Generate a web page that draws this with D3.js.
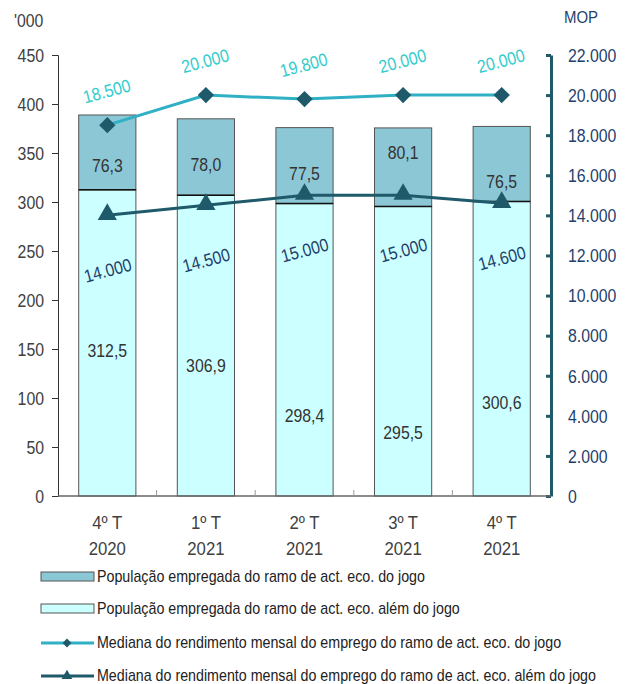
<!DOCTYPE html>
<html>
<head>
<meta charset="utf-8">
<script src="https://cdn.jsdelivr.net/npm/d3@7"></script>
<style>
  body { margin: 0; background: #fff; }
  text { font-family: "Liberation Sans Narrow", "Liberation Sans", Arial, sans-serif; }
</style>
</head>
<body>
<script>
// data
var categories = ["4º T|2020", "1º T|2021", "2º T|2021", "3º T|2021", "4º T|2021"];
var alemJogo = [312.5, 306.9, 298.4, 295.5, 300.6];
var doJogo = [76.3, 78.0, 77.5, 80.1, 76.5];
var medianaJogo = [18500, 20000, 19800, 20000, 20000];
var medianaAlem = [14000, 14500, 15000, 15000, 14600];
var leftTicks = [0, 50, 100, 150, 200, 250, 300, 350, 400, 450];
var rightTicks = [0, 2000, 4000, 6000, 8000, 10000, 12000, 14000, 16000, 18000, 20000, 22000];
var legendLabels = [
  "População empregada do ramo de act. eco. do jogo",
  "População empregada do ramo de act. eco. além do jogo",
  "Mediana do rendimento mensal do emprego do ramo de act. eco. do jogo",
  "Mediana do rendimento mensal do emprego do ramo de act. eco. além do jogo"
];

// manual label nudges (like the original chart)
var topLabelDy = [14, 8, 8, -14, 18];
var botLabelDy = [8, 20, 66, 82, 54];

var W = 629, H = 684;
var mLeft = 58, mRight = 551, mTop = 55, mBottom = 496;
var SX = 0.88; // narrow text look

var cTopFill = "#8cc7d6", cBotFill = "#ccffff";
var cLine1 = "#2fb0c4", cMark = "#1f5a6a", cLine2 = "#1f5a6a";
var cLab1 = "#33cccc", cLab2 = "#1f3f6b", cAxisR = "#1f5a6a", cTxt = "#404040";

var svg = d3.select("body").append("svg")
  .attr("width", W).attr("height", H);

var x = d3.scaleBand().domain(d3.range(categories.length))
  .range([mLeft, mRight]).paddingInner(0.42).paddingOuter(0.21);
var xc = function (i) { return x(i) + x.bandwidth() / 2; };
var y = d3.scaleLinear().domain([0, 450]).range([mBottom, mTop]);
var y2 = d3.scaleLinear().domain([0, 22000]).range([mBottom, mTop]);

function narrow(sel) {
  // squeeze text horizontally around its anchor point
  sel.each(function () {
    var t = d3.select(this);
    var tx = +t.attr("x") || 0, ty = +t.attr("y") || 0;
    t.attr("transform", "translate(" + tx + "," + ty + ") scale(" + SX + ",1)")
      .attr("x", 0).attr("y", 0);
  });
}

// left axis
var gl = svg.append("g").attr("transform", "translate(" + mLeft + ",0)")
  .call(d3.axisLeft(y).tickValues(leftTicks).tickSize(6).tickPadding(8));
gl.select(".domain").attr("stroke", "#333");
gl.selectAll(".tick line").attr("stroke", "#333");
gl.selectAll("text").attr("font-size", 18).attr("fill", cTxt).attr("font-family", null)
  .attr("dy", "0.35em").call(narrow);

svg.append("text").attr("x", 14).attr("y", 27).text("'000")
  .attr("font-size", 18).attr("fill", cTxt).call(narrow);

// right axis
var gr = svg.append("g").attr("transform", "translate(" + mRight + ",0)")
  .call(d3.axisRight(y2).tickValues(rightTicks).tickSizeInner(-5).tickSizeOuter(0).tickPadding(17)
    .tickFormat(function (d) { return d3.format(",")(d).replace(/,/g, "."); }));
gr.select(".domain").attr("stroke", cAxisR).attr("stroke-width", 3);
gr.selectAll(".tick line").attr("stroke", cAxisR).attr("stroke-width", 3);
gr.selectAll("text").attr("font-size", 18).attr("fill", cLab2).attr("font-family", null)
  .attr("dy", "0.35em").call(narrow);

svg.append("text").attr("x", 564).attr("y", 23).text("MOP")
  .attr("font-size", 17).attr("fill", cLab2).call(narrow);

// bars
var bars = svg.append("g");
bars.selectAll(".bot").data(alemJogo).enter().append("rect")
  .attr("x", function (d, i) { return x(i); })
  .attr("y", function (d) { return y(d); })
  .attr("width", x.bandwidth())
  .attr("height", function (d) { return mBottom - y(d); })
  .attr("fill", cBotFill).attr("stroke", "#555").attr("stroke-width", 1);
bars.selectAll(".top").data(doJogo).enter().append("rect")
  .attr("x", function (d, i) { return x(i); })
  .attr("y", function (d, i) { return y(d + alemJogo[i]); })
  .attr("width", x.bandwidth())
  .attr("height", function (d) { return y(0) - y(d); })
  .attr("fill", cTopFill).attr("stroke", "#555").attr("stroke-width", 1);
bars.selectAll(".sep").data(alemJogo).enter().append("line")
  .attr("x1", function (d, i) { return x(i); })
  .attr("x2", function (d, i) { return x(i) + x.bandwidth(); })
  .attr("y1", function (d) { return y(d); })
  .attr("y2", function (d) { return y(d); })
  .attr("stroke", "#111").attr("stroke-width", 1.5);

// bottom axis
svg.append("line").attr("x1", mLeft).attr("x2", mRight).attr("y1", mBottom).attr("y2", mBottom)
  .attr("stroke", "#666").attr("stroke-width", 1.5);
svg.selectAll(".xtick").data(d3.range(1, categories.length)).enter().append("line")
  .attr("x1", function (i) { return x(i) - x.step() * x.paddingInner() / 2; })
  .attr("x2", function (i) { return x(i) - x.step() * x.paddingInner() / 2; })
  .attr("y1", mBottom).attr("y2", mBottom - 6)
  .attr("stroke", "#999");

categories.forEach(function (c, i) {
  var parts = c.split("|");
  svg.append("text").attr("text-anchor", "middle").attr("font-size", 19).attr("fill", cTxt)
    .attr("x", xc(i)).attr("y", 529).text(parts[0]).call(narrow);
  svg.append("text").attr("text-anchor", "middle").attr("font-size", 19).attr("fill", cTxt)
    .attr("x", xc(i)).attr("y", 555).text(parts[1]).call(narrow);
});

var fmt1 = function (v) { return v.toFixed(1).replace(".", ","); };

// bar labels
svg.selectAll(".tl").data(doJogo).enter().append("text")
  .attr("text-anchor", "middle").attr("font-size", 18).attr("fill", "#333")
  .attr("x", function (d, i) { return xc(i); })
  .attr("y", function (d, i) { return (y(alemJogo[i] + d) + y(alemJogo[i])) / 2 + 6 + topLabelDy[i]; })
  .text(fmt1).call(narrow);
svg.selectAll(".bl").data(alemJogo).enter().append("text")
  .attr("text-anchor", "middle").attr("font-size", 18).attr("fill", "#333")
  .attr("x", function (d, i) { return xc(i); })
  .attr("y", function (d, i) { return (y(d) + mBottom) / 2 + 6 + botLabelDy[i]; })
  .text(fmt1).call(narrow);

var fmtK = function (v) { return d3.format(",")(v).replace(/,/g, "."); };

// line 2 (além do jogo)
var line2 = d3.line().x(function (d, i) { return xc(i); }).y(function (d) { return y2(d); });
svg.append("path").datum(medianaAlem).attr("d", line2)
  .attr("fill", "none").attr("stroke", cLine2).attr("stroke-width", 3);
svg.selectAll(".tri").data(medianaAlem).enter().append("path")
  .attr("d", d3.symbol().type(d3.symbolTriangle).size(160))
  .attr("transform", function (d, i) { return "translate(" + xc(i) + "," + (y2(d) - 1) + ")"; })
  .attr("fill", cMark);
svg.selectAll(".l2").data(medianaAlem).enter().append("text")
  .attr("text-anchor", "middle").attr("font-size", 18).attr("fill", cLab2)
  .attr("transform", function (d, i) { return "translate(" + (xc(i) + 2) + "," + (y2(d) + 61) + ") rotate(-15) scale(" + SX + ",1)"; })
  .text(fmtK);

// line 1 (do jogo)
var line1 = d3.line().x(function (d, i) { return xc(i); }).y(function (d) { return y2(d); });
svg.append("path").datum(medianaJogo).attr("d", line1)
  .attr("fill", "none").attr("stroke", cLine1).attr("stroke-width", 3);
svg.selectAll(".dia").data(medianaJogo).enter().append("path")
  .attr("d", d3.symbol().type(d3.symbolDiamond2).size(170))
  .attr("transform", function (d, i) { return "translate(" + xc(i) + "," + y2(d) + ")"; })
  .attr("fill", cMark);
svg.selectAll(".l1").data(medianaJogo).enter().append("text")
  .attr("text-anchor", "middle").attr("font-size", 18).attr("fill", cLab1)
  .attr("transform", function (d, i) { return "translate(" + (xc(i) + 1) + "," + (y2(d) - 28) + ") rotate(-15) scale(" + SX + ",1)"; })
  .text(fmtK);

// legend
var lg = svg.append("g");
var rowY = [577, 609, 643, 676];
legendLabels.forEach(function (t, i) {
  var yy = rowY[i];
  if (i < 2) {
    lg.append("rect").attr("x", 41).attr("y", yy - 5).attr("width", 53).attr("height", 9)
      .attr("fill", i === 0 ? cTopFill : cBotFill).attr("stroke", "#555");
  } else {
    lg.append("line").attr("x1", 41).attr("x2", 94).attr("y1", yy).attr("y2", yy)
      .attr("stroke", i === 2 ? cLine1 : cLine2).attr("stroke-width", 3);
    lg.append("path")
      .attr("d", d3.symbol().type(i === 2 ? d3.symbolDiamond2 : d3.symbolTriangle).size(50))
      .attr("transform", "translate(67," + yy + ")").attr("fill", cMark);
  }
  lg.append("text").attr("x", 97).attr("y", yy + 5).attr("font-size", 16.2).attr("fill", "#222")
    .text(t).call(narrow);
});
</script>
</body>
</html>
